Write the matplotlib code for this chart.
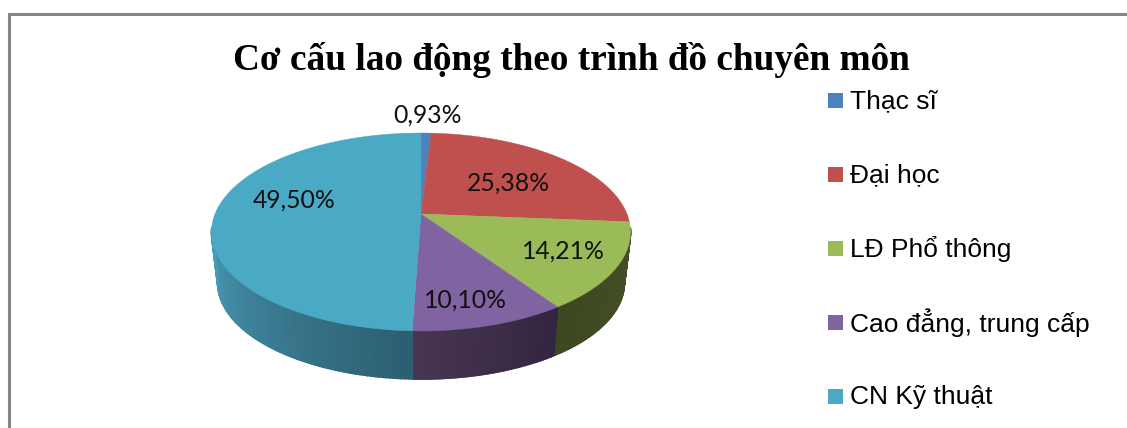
import numpy as np
import matplotlib
matplotlib.use("Agg")
import matplotlib.pyplot as plt
from matplotlib.patches import Rectangle

categories = ["Thạc sĩ", "Đại học", "LĐ Phổ thông", "Cao đẳng, trung cấp", "CN Kỹ thuật"]
shares = [0.93, 25.38, 14.21, 10.10, 49.50]
colors = ["#4F81BD", "#C0504D", "#9BBB59", "#8064A2", "#4AA9C4"]
title = "Cơ cấu lao động theo trình đồ chuyên môn"

# shading of the rim: (colour at start of slice, colour at end of slice)
rim_shades = {
    2: ("#46512A", "#3D4820"),
    3: ("#33243F", "#463652"),
    4: ("#2C5E70", "#4A9BB6"),
}

# pie geometry in pixels, with a perspective term for the tilt
CX, CY = 421.0, 214.0
RX, RY = 206.0, 95.7
TILT = -0.1818
DEPTH = 51.5
BOTTOM_SCALE = 0.97


def project(theta, scale=1.0, drop=0.0):
    # theta is clockwise from 12 o'clock, in radians
    s, c = np.sin(theta), -np.cos(theta)
    w = 1 + TILT * c
    return CX + scale * RX * s / w, CY + drop + scale * RY * c / w


def mix(c1, c2, t):
    a = np.array(matplotlib.colors.to_rgb(c1))
    b = np.array(matplotlib.colors.to_rgb(c2))
    return tuple(a + (b - a) * t)


fig = plt.figure(figsize=(11.27, 4.28), dpi=100)
ax = fig.add_axes([0, 0, 1, 1])
ax.set_xlim(0, 1127)
ax.set_ylim(428, 0)
ax.axis("off")

# outer chart frame, only the left and top edges are on the canvas
ax.plot([9, 9, 1127], [428, 13.5, 13.5], color="#868686", lw=2.2, solid_joinstyle="miter")

edges = np.cumsum([0] + shares) / sum(shares) * 2 * np.pi

# rim first, strip by strip so the shading can run along it
left_limit = np.deg2rad(262)
right_limit = np.deg2rad(98)
for i, (start, end) in enumerate(zip(edges[:-1], edges[1:])):
    if i not in rim_shades:
        continue
    a0 = max(start, right_limit)
    a1 = min(end, left_limit)
    steps = np.linspace(a0, a1, 90)
    for k in range(len(steps) - 1):
        t0, t1 = steps[k], steps[k + 1]
        x_top, y_top = project(np.array([t0, t1]))
        x_bot, y_bot = project(np.array([t1, t0]), BOTTOM_SCALE, DEPTH)
        col = mix(rim_shades[i][0], rim_shades[i][1], k / (len(steps) - 2))
        ax.fill(np.r_[x_top, x_bot], np.r_[y_top, y_bot], color=col, lw=1.2)

# top face of each slice
for i, (start, end) in enumerate(zip(edges[:-1], edges[1:])):
    theta = np.linspace(start, end, 200)
    x, y = project(theta)
    ax.fill(np.r_[CX, x], np.r_[CY, y], color=colors[i], lw=0.3)

# percentage labels
label_x = [427, 508, 563, 465, 294]
label_y = [115, 183, 251, 300, 200]
for value, lx, ly in zip(shares, label_x, label_y):
    ax.text(lx, ly, f"{value:.2f}%".replace(".", ","), ha="center", va="center",
            family="Lato", fontsize=17.8, color="#111111")

ax.text(571.5, 60, title, ha="center", va="center", family="Liberation Serif",
        fontweight="bold", fontsize=26.8, color="black")

# legend column
legend_y = [100.5, 174, 248, 322, 396]
for name, col, ly in zip(categories, colors, legend_y):
    ax.add_patch(Rectangle((828, ly - 7.5), 15, 15, facecolor=col, edgecolor="none"))
    ax.text(850, ly + 1, name, ha="left", va="center", family="Liberation Sans",
            fontsize=19, color="black")

fig.savefig("out.png", dpi=100)
